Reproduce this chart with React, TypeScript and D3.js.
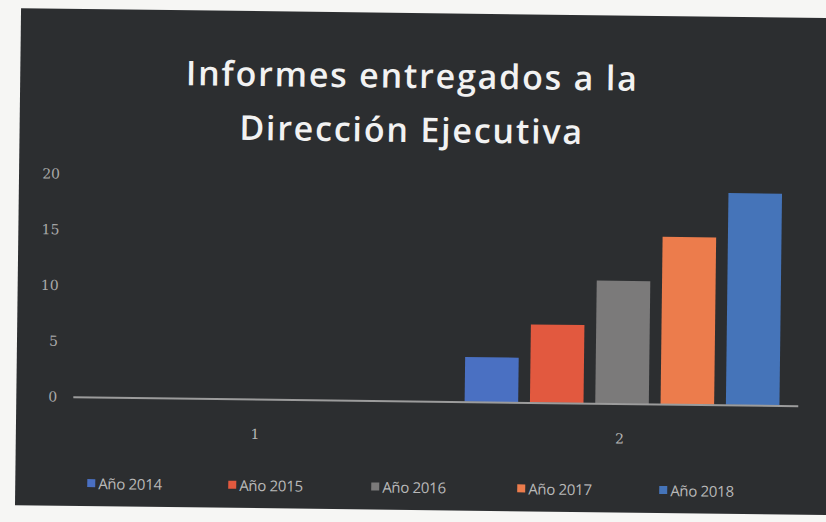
import React, { useEffect, useRef } from 'react';
import * as d3 from 'd3';

// chart data
const categories = ['1', '2'];
const seriesNames = ['Año 2014', 'Año 2015', 'Año 2016', 'Año 2017', 'Año 2018'];
const seriesColors = ['#4a70c2', '#e2593f', '#7b7a7a', '#ec7c4c', '#4574b9'];
const values2014 = [0, 4];
const values2015 = [0, 7];
const values2016 = [0, 11];
const values2017 = [0, 15];
const values2018 = [0, 19];
const yTicks = [0, 5, 10, 15, 20];
const titleLines = ['Informes entregados a la', 'Dirección Ejecutiva'];

const allSeries = [values2014, values2015, values2016, values2017, values2018];

const App = () => {
  const ref = useRef<SVGSVGElement | null>(null);

  useEffect(() => {
    const width = 826;
    const height = 522;
    const margin = { top: 178, right: 22, bottom: 115, left: 75 };

    const svg = d3.select(ref.current);
    svg.selectAll('*').remove();

    // white paper around the photographed chart
    svg.append('rect').attr('width', width).attr('height', height).attr('fill', '#f6f6f4');

    const g = svg.append('g').attr('transform', 'rotate(0.7, 413, 261)');

    g.append('rect')
      .attr('x', 18)
      .attr('y', 13)
      .attr('width', 820)
      .attr('height', 497)
      .attr('fill', '#2c2e30');

    // title
    g.append('g')
      .selectAll('text')
      .data(titleLines)
      .enter().append('text')
      .attr('x', 410)
      .attr('y', (d, i) => 88 + i * 54)
      .attr('text-anchor', 'middle')
      .attr('fill', '#f2f2f2')
      .attr('font-family', '"Open Sans", sans-serif')
      .attr('font-weight', 600)
      .attr('font-size', 34)
      .attr('letter-spacing', 1.8)
      .text(d => d);

    const x0 = d3.scaleBand()
      .domain(categories)
      .range([margin.left, width - margin.right])
      .paddingInner(0)
      .paddingOuter(0);

    const x1 = d3.scaleBand()
      .domain(seriesNames)
      .range([0, x0.bandwidth()])
      .paddingInner(0.18)
      .paddingOuter(0.38);

    const y = d3.scaleLinear()
      .domain([0, 20])
      .range([height - margin.bottom - 6, margin.top]);

    // y axis labels
    const yAxis = g.append('g')
      .attr('transform', `translate(${margin.left - 16},0)`)
      .call(d3.axisLeft(y).tickValues(yTicks).tickSize(0).tickPadding(0));
    yAxis.select('.domain').remove();
    yAxis.selectAll('text')
      .attr('fill', '#a9a9a9')
      .attr('font-family', '"DejaVu Serif", serif')
      .attr('font-size', 14);

    // bars
    seriesNames.forEach((name, si) => {
      g.append('g')
        .selectAll('rect')
        .data(categories.map((c, ci) => ({ c, v: allSeries[si][ci] })))
        .enter().append('rect')
        .attr('x', d => (x0(d.c) as number) + (x1(name) as number) + 2)
        .attr('y', d => y(d.v))
        .attr('width', x1.bandwidth())
        .attr('height', d => y(0) - y(d.v))
        .attr('fill', seriesColors[si]);
    });

    // baseline
    g.append('line')
      .attr('x1', margin.left)
      .attr('x2', width - margin.right - 4)
      .attr('y1', y(0) + 0.5)
      .attr('y2', y(0) + 0.5)
      .attr('stroke', '#9c9c9c')
      .attr('stroke-width', 2);

    // category labels
    const xAxis = g.append('g')
      .attr('transform', `translate(0,${y(0) + 30})`)
      .call(d3.axisBottom(x0).tickSize(0).tickPadding(0));
    xAxis.select('.domain').remove();
    xAxis.selectAll('text')
      .attr('fill', '#b5b5b5')
      .attr('font-family', '"DejaVu Serif", serif')
      .attr('font-size', 14);

    // legend
    const legendX = [90, 231, 374, 520, 662];
    const legend = g.append('g');
    seriesNames.forEach((name, i) => {
      legend.append('rect')
        .attr('x', legendX[i])
        .attr('y', 483)
        .attr('width', 8)
        .attr('height', 8)
        .attr('fill', seriesColors[i]);
      legend.append('text')
        .attr('x', legendX[i] + 11)
        .attr('y', 493)
        .attr('fill', '#b9b9b9')
        .attr('font-family', '"Open Sans", sans-serif')
        .attr('font-size', 15)
        .attr('letter-spacing', -0.3)
        .text(name);
    });
  }, []);

  return (
    <div style={{ position: 'absolute', left: 0, top: 0 }}>
      <svg ref={ref} width={826} height={522} />
    </div>
  );
};

export default App;
